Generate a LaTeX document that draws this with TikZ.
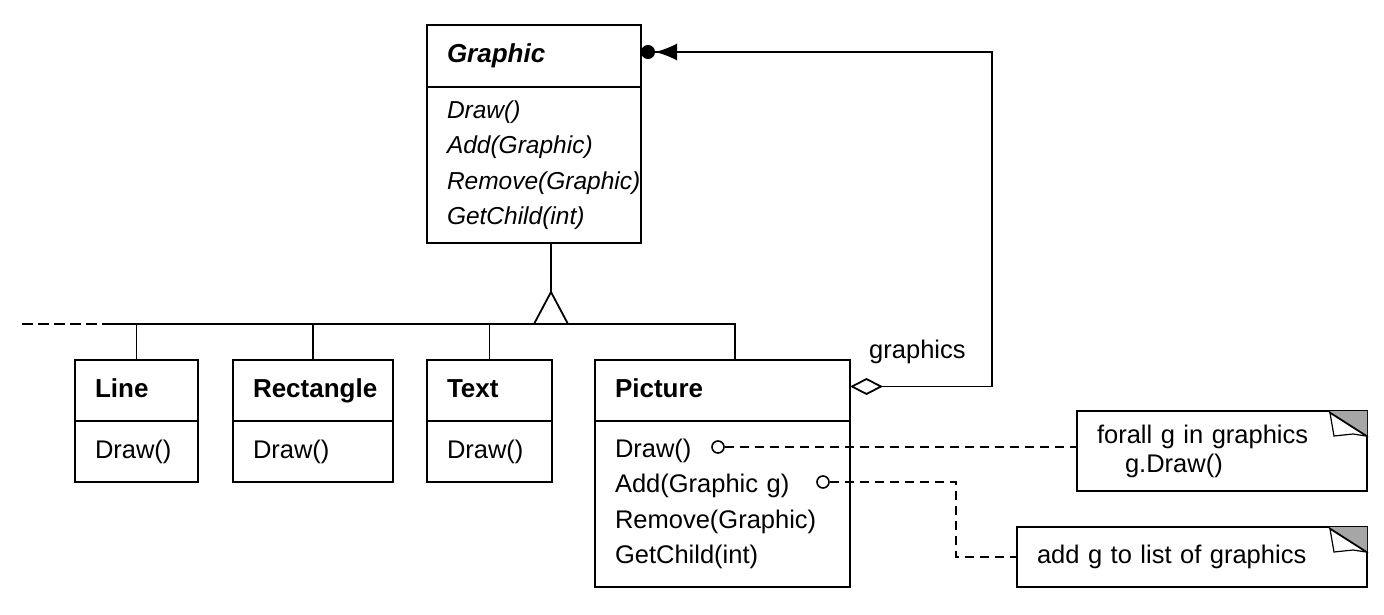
\documentclass[tikz,border=0pt]{standalone}
\usepackage{fontspec}
\setmainfont{Liberation Sans}
\usetikzlibrary{arrows.meta,positioning}

\begin{document}
\begin{tikzpicture}[x=1pt,y=-1pt,line width=1.8pt,
	every node/.style={font=\fontsize{25.5}{35.5}\selectfont},
	box/.style={draw,line width=2pt,anchor=north west,outer sep=0pt,inner xsep=20pt,inner ysep=0pt,
		align=left,minimum width=#1,text width=#1-40pt},
	head/.style={box=#1,minimum height=61pt,text height=18pt,text depth=5pt,font=\fontsize{26}{35.5}\selectfont\bfseries},
	note/.style={box=#1,font=\fontsize{25.5}{29}\selectfont},
	link/.style={dash pattern=on 9pt off 6pt},
	port/.style={circle,draw,line width=1.6pt,inner sep=0pt,minimum size=12pt},
	fold/.style={fill=gray!70}]
	\useasboundingbox (0,0) rectangle (1384,614);
	% abstract class
	\node[head=214pt,minimum height=62pt] (graphic) at (427,25) {\itshape Graphic};
	\node[box=214pt,minimum height=156pt,font=\fontsize{24.5}{35.5}\selectfont\itshape] (graphicops) at (graphic.south west)
		{Draw()\\Add(Graphic)\\Remove(Graphic)\\GetChild(int)};
	% subclasses
	\node[head=123pt] (line) at (75,360) {Line};
	\node[box=123pt,minimum height=61pt] (lineops) at (line.south west) {Draw()};
	\node[head=160pt] (rectangle) [right=35pt of line] {Rectangle};
	\node[box=160pt,minimum height=61pt] (rectangleops) at (rectangle.south west) {Draw()};
	\node[head=125pt] (text) [right=34pt of rectangle] {Text};
	\node[box=125pt,minimum height=61pt] (textops) at (text.south west) {Draw()};
	\node[head=255pt] (picture) [right=43pt of text] {Picture};
	\node[box=255pt,minimum height=166pt] (pictureops) at (picture.south west)
		{Draw()\\Add(Graphic g)\\Remove(Graphic)\\GetChild(int)};
	% notes
	\node[note=290pt,minimum height=80pt] (note1) at (1077,411)
		{forall g in graphics\\\hspace*{28pt}g.Draw()};
	\node[note=350pt,minimum height=60pt] (note2) at (1017,527) {add g to list of graphics};
	\foreach \n in {note1,note2} {
		\fill[fold] ([xshift=-39pt]\n.north east) -- (\n.north east) -- ([yshift=-25pt]\n.north east) -- cycle;
		\draw[line width=1.2pt] ([xshift=-39pt]\n.north east) -- ([yshift=-25pt]\n.north east);
		\draw[line width=1.2pt,fill=white] ([xshift=-37pt,yshift=-2pt]\n.north east) -- ([xshift=-33pt,yshift=-25pt]\n.north east)
			-- ([xshift=-14pt,yshift=-23pt]\n.north east) -- ([xshift=-1pt,yshift=-25pt]\n.north east) -- cycle;
	}
	% ports on the operations
	\node[port] (drawport) at (718,447) {};
	\node[port] (addport) at (823,482) {};
	% hierarchy
	\coordinate (busend) at (22,324);
	\coordinate (busdash) at (110,324);
	\coordinate (busright) at (735,324);
	\coordinate (apex) at (551,292);
	\draw[dash pattern=on 11pt off 5pt] (busend) -- (busdash);
	\draw (busdash) -- (busright) -- (busright |- picture.north);
	\draw (line.north) -- (line.north |- busright);
	\draw (rectangle.north) -- (rectangle.north |- busright);
	\draw (text.north) -- (text.north |- busright);
	\draw (apex |- graphicops.south) -- (apex);
	\draw[line join=miter] (apex) -- ++(-17,32) -- ++(34,0) -- cycle;
	% aggregation
	\draw[{Diamond[open,length=33pt,width=17pt]}-{Latex[length=22pt,width=17pt,sep=0pt] Circle[length=14pt]}]
		([yshift=4pt]picture.east) -- ++(142,0) |- ([yshift=4pt]graphic.east);
	\node[anchor=west] (agglabel) at (865,352) {graphics};
	% note links
	\draw[link] (drawport) -- (drawport -| note1.west);
	\draw[link] (addport) -- ++(133,0) |- (note2.west);
\end{tikzpicture}
\end{document}
